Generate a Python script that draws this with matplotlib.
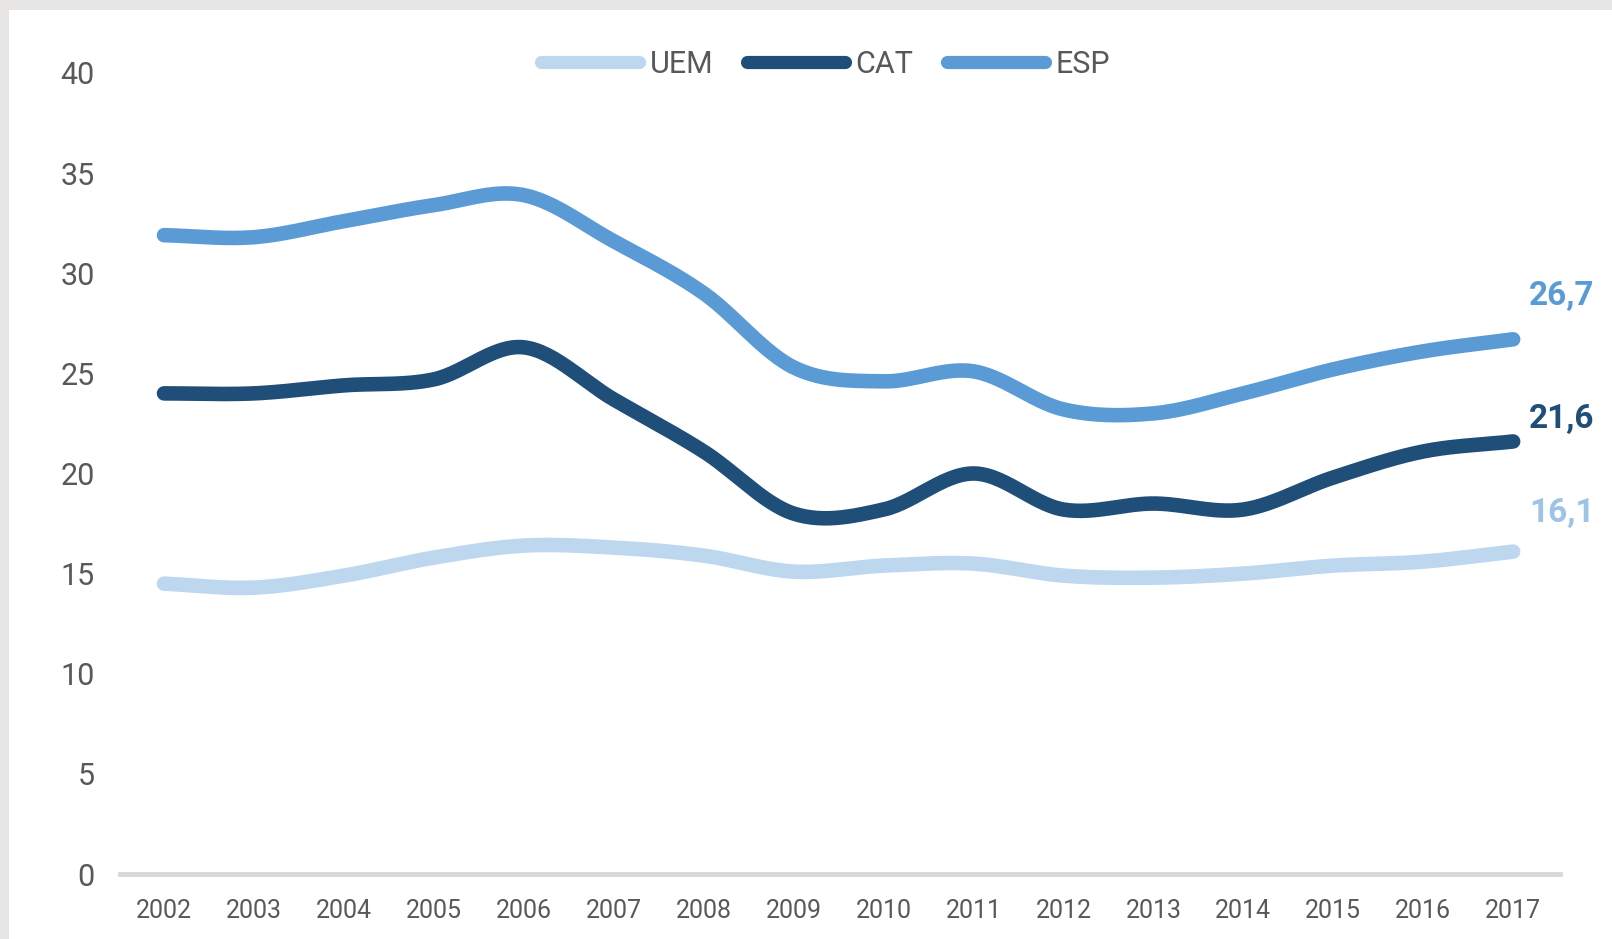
import numpy as np
import matplotlib.pyplot as plt
from matplotlib.patches import Rectangle

# ==================================
# Data
# ==================================
years = ["2002", "2003", "2004", "2005", "2006", "2007", "2008", "2009",
         "2010", "2011", "2012", "2013", "2014", "2015", "2016", "2017"]

uem = [14.5, 14.3, 14.9, 15.8, 16.4, 16.3, 15.9, 15.1,
       15.4, 15.5, 14.9, 14.8, 15.0, 15.4, 15.6, 16.1]
cat = [24.0, 24.0, 24.4, 24.7, 26.3, 23.7, 21.1, 18.0,
       18.2, 20.0, 18.2, 18.5, 18.2, 19.8, 21.1, 21.6]
esp = [31.9, 31.8, 32.6, 33.4, 33.9, 31.6, 29.0, 25.3,
       24.6, 25.1, 23.2, 23.0, 24.0, 25.2, 26.1, 26.7]

series = ["UEM", "CAT", "ESP"]
end_labels = ["16,1", "21,6", "26,7"]

# ==================================
# Style
# ==================================
c_uem = "#bdd7ee"
c_cat = "#1f4e79"
c_esp = "#5b9bd5"
c_uem_lbl = "#9dc3e6"
c_tick = "#595959"
plt.rcParams['font.family'] = ['Roboto', 'DejaVu Sans']


def smooth(x, y, n=30):
    # Catmull-Rom curve through the points (like Excel's smoothed line)
    x = np.asarray(x, float)
    y = np.asarray(y, float)
    px = np.concatenate([[2*x[0]-x[1]], x, [2*x[-1]-x[-2]]])
    py = np.concatenate([[2*y[0]-y[1]], y, [2*y[-1]-y[-2]]])
    t = np.linspace(0, 1, n, endpoint=False)
    xs, ys = [], []
    for i in range(1, len(px)-2):
        for p, out in ((px, xs), (py, ys)):
            p0, p1, p2, p3 = p[i-1], p[i], p[i+1], p[i+2]
            out.append(0.5*((2*p1) + (-p0+p2)*t + (2*p0-5*p1+4*p2-p3)*t**2
                            + (-p0+3*p1-3*p2+p3)*t**3))
    xs.append([x[-1]])
    ys.append([y[-1]])
    return np.concatenate(xs), np.concatenate(ys)


# ==================================
# Figure
# ==================================
fig = plt.figure(figsize=(16.12, 9.39), dpi=100)
fig.patch.set_facecolor("#e7e6e4")
fig.patches.append(Rectangle((9/1612, 0), 1, 1 - 10/939, transform=fig.transFigure,
                             facecolor="white", edgecolor="none", zorder=-1))

ax = fig.add_axes([0.0744, 0.0692, 0.8933, 0.8531])
ax.set_zorder(2)
ax.set_facecolor("none")

x = np.arange(len(years))
for vals, col, name in ((uem, c_uem, "UEM"), (cat, c_cat, "CAT"), (esp, c_esp, "ESP")):
    sx, sy = smooth(x, vals)
    ax.plot(sx, sy, color=col, lw=10.5, solid_capstyle="round", label=name)

# end-of-line value labels
for vals, txt, col, dy in ((esp, end_labels[2], c_esp, 31),
                           (cat, end_labels[1], c_cat, 16),
                           (uem, end_labels[0], c_uem_lbl, 28)):
    ax.annotate(txt, (x[-1], vals[-1]), xytext=(35, dy), textcoords="offset points",
                ha="center", va="center", fontsize=24, fontweight="bold",
                color=col, annotation_clip=False)

ax.set_xlim(-0.49, 15.52)
ax.set_ylim(0, 40)
ax.set_yticks(np.arange(0, 41, 5))
ax.set_xticks(x)
ax.set_xticklabels(years)

for s in ("top", "right", "left"):
    ax.spines[s].set_visible(False)
ax.spines["bottom"].set_color("#d9d9d9")
ax.spines["bottom"].set_linewidth(3.5)

ax.tick_params(axis="y", length=0, pad=18, labelsize=22, labelcolor=c_tick)
ax.tick_params(axis="x", length=0, pad=18, labelsize=18, labelcolor=c_tick)

leg = ax.legend(loc="center", bbox_to_anchor=(0.49, 1.011), ncol=3, frameon=False,
                fontsize=22, handlelength=3.2,
                handletextpad=0.35, columnspacing=1.1, labelcolor=c_tick)
for h in leg.get_lines():
    h.set_linewidth(9.5)
    h.set_solid_capstyle("round")

fig.savefig("out.png", dpi=100, facecolor=fig.get_facecolor())
